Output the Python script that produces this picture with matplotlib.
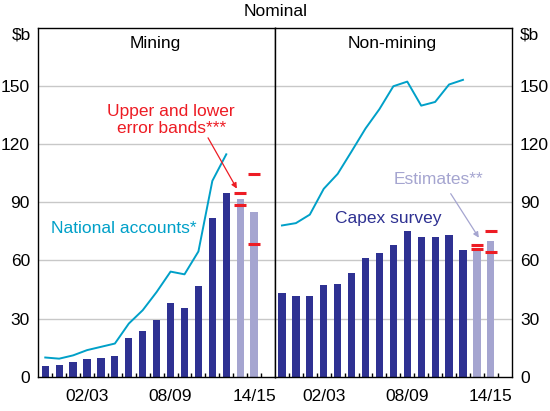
import numpy as np
import matplotlib.pyplot as plt

plt.rcParams['font.family'] = ['Liberation Sans', 'DejaVu Sans']
plt.rcParams['font.size'] = 12.5

# financial years 1999/00 .. 2014/15
years = ['99/00', '00/01', '01/02', '02/03', '03/04', '04/05', '05/06', '06/07',
         '07/08', '08/09', '09/10', '10/11', '11/12', '12/13', '13/14', '14/15']
tick_idx = [3, 9, 15]

# capex survey (actual), last two are estimates
mining_capex = [5.7, 6.2, 7.5, 9.1, 9.6, 10.8, 20.0, 23.5, 29.3, 37.9, 35.5, 46.6, 81.6, 94.6]
mining_est = [91.4, 84.7]
mining_bands = [(94.8, 88.6), (104.4, 68.5)]
mining_na = [9.9, 9.3, 11.0, 13.7, 15.4, 17.1, 27.4, 34.3, 43.7, 54.2, 52.8, 64.6, 101.0, 114.7]

nonmining_capex = [43.2, 41.5, 41.5, 47.1, 47.6, 53.3, 61.0, 63.6, 67.7, 74.9, 71.8, 72.3, 73.0, 65.6]
nonmining_est = [65.8, 69.8]
nonmining_bands = [(68.0, 65.8), (74.9, 64.3)]
nonmining_na = [78.0, 79.2, 83.6, 96.9, 104.6, 116.2, 128.0, 138.0, 149.8, 152.2, 139.8, 141.7, 150.7, 153.1]

navy = '#2E3192'
lilac = '#A5A5D0'
cyan = '#00A0C8'
red = '#ED1C24'
grid_c = '#C8C8C8'

fig = plt.figure(figsize=(5.5, 4.11), dpi=100)
W, H = 550, 411
ax1 = fig.add_axes([38.3 / W, 34.3 / H, 236.7 / W, 349 / H])
ax2 = fig.add_axes([275 / W, 34.3 / H, 236.7 / W, 349 / H])


def draw_panel(ax, capex, est, bands, na):
    n = len(capex)
    x = np.arange(n)
    xe = np.arange(n, n + len(est))
    ax.bar(x, capex, width=0.52, color=navy, zorder=2)
    ax.bar(xe, est, width=0.52, color=lilac, zorder=2)
    for xi, (hi, lo) in zip(xe, bands):
        ax.hlines([hi, lo], xi - 0.43, xi + 0.43, color=red, lw=2.2, zorder=3)
    ax.plot(np.arange(len(na)), na, color=cyan, lw=1.4, zorder=3)

    ax.set_xlim(-0.5, 16.5)
    ax.set_ylim(0, 180)
    ax.set_yticks([0, 30, 60, 90, 120, 150])
    for v in [30, 60, 90, 120, 150]:
        ax.axhline(v, color=grid_c, lw=1, zorder=0)
    ax.set_xticks(tick_idx)
    ax.set_xticklabels([years[i] for i in tick_idx])
    ax.set_xticks(np.arange(0.5, 16, 1), minor=True)
    ax.tick_params(axis='x', which='major', length=0, pad=9)
    ax.tick_params(axis='x', which='minor', direction='in', length=3, width=1)
    for s in ax.spines.values():
        s.set_linewidth(1)
        s.set_color('black')


draw_panel(ax1, mining_capex, mining_est, mining_bands, mining_na)
draw_panel(ax2, nonmining_capex, nonmining_est, nonmining_bands, nonmining_na)

ax1.tick_params(axis='y', length=0, pad=6, left=True, labelleft=True)
ax2.tick_params(axis='y', length=0, pad=6, left=False, labelleft=False,
                right=True, labelright=True)

ax1.text(7.89, 171.6, 'Mining', ha='center', va='center')
ax2.text(7.89, 171.6, 'Non-mining', ha='center', va='center')

ax1.text(9.05, 132.4, 'Upper and lower\nerror bands***', ha='center', va='center',
         color=red, linespacing=1.15)
ax1.annotate('', xy=(13.76, 97.0), xytext=(11.69, 123.2),
             arrowprops=dict(arrowstyle='-|>', color=red, lw=0.9,
                             mutation_scale=8, shrinkA=0, shrinkB=0))
ax1.text(5.64, 76.6, 'National accounts*', ha='center', va='center', color=cyan)

ax2.text(7.64, 81.6, 'Capex survey', ha='center', va='center', color=navy)
ax2.text(11.21, 101.6, 'Estimates**', ha='center', va='center', color=lilac)
ax2.annotate('', xy=(14.14, 71.7), xytext=(12.12, 94.4),
             arrowprops=dict(arrowstyle='-|>', color=lilac, lw=0.9,
                             mutation_scale=8, shrinkA=0, shrinkB=0))

fig.text(275.5 / W, 1 - 12 / H, 'Nominal', ha='center', va='center')
fig.text(21 / W, 1 - 35 / H, '$b', ha='center', va='center')
fig.text(529 / W, 1 - 35 / H, '$b', ha='center', va='center')

fig.savefig('out.png', dpi=100)
